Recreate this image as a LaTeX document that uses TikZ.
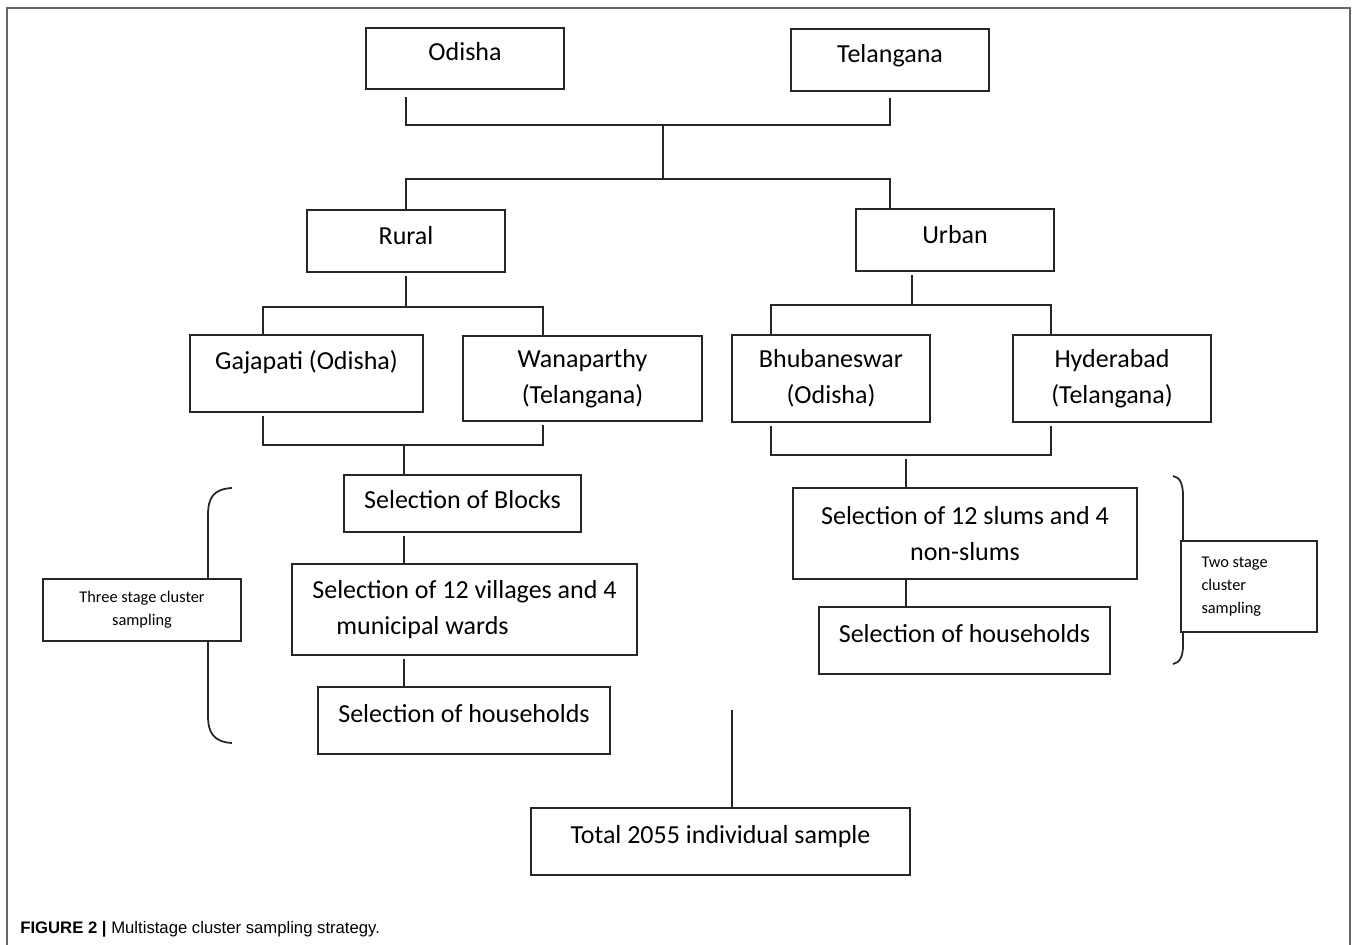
\documentclass[tikz,border=0pt]{standalone}
\usepackage{fontspec}
\setmainfont{Carlito}
\newfontfamily\capfont{Liberation Sans}

\newcommand{\boxfont}{\fontsize{14.8pt}{20.5pt}\selectfont}
\newcommand{\notefont}{\fontsize{9.3pt}{13.1pt}\selectfont}

\tikzset{
  frame/.style={draw=black!85, line width=1.2pt, inner sep=0pt, font=\boxfont},
  box/.style={frame, text height=0.36cm, text depth=#1},
  box/.default=0.26cm,
  note/.style={frame, font=\notefont, line width=1pt},
  link/.style={draw=black!85, line width=1pt},
  brace/.style={draw=black!85, line width=1pt},
}

\begin{document}
\begin{tikzpicture}[x=0.02cm, y=-0.02cm]
  \useasboundingbox (0,0) rectangle (1358,945);
  % page frame
  \draw[black!60, line width=1pt] (7,945) -- (7,8) -- (1350,8) -- (1350,945);

  % states and settings
  \node[box, minimum width=3.96cm, minimum height=1.22cm] (odisha) at (465,58.5) {Odisha};
  \node[box=0.24cm, minimum width=3.96cm, minimum height=1.24cm] (telangana) at (890,60) {Telangana};
  \node[box=0.2cm, minimum width=3.96cm, minimum height=1.24cm] (rural) at (406,241) {Rural};
  \node[box=0.2cm, minimum width=3.96cm, minimum height=1.24cm] (urban) at (955,240) {Urban};

  % districts and cities
  \node[box=0.52cm, minimum width=4.66cm, minimum height=1.54cm] (gajapati) at (306.5,373.5) {Gajapati (Odisha)};
  \node[frame, align=center, minimum width=4.78cm, minimum height=1.70cm] (wanaparthy) at (582.5,378.5) {Wanaparthy\\(Telangana)};
  \node[frame, align=center, minimum width=3.96cm, minimum height=1.74cm] (bhub) at (831,378.5) {Bhubaneswar\\(Odisha)};
  \node[frame, align=center, minimum width=3.96cm, minimum height=1.74cm] (hyd) at (1112,378.5) {Hyderabad\\(Telangana)};

  % rural stages
  \node[box=0.16cm, minimum width=4.74cm, minimum height=1.14cm] (blocks) at (462.5,503.5) {Selection of Blocks};
  \node[frame, align=left, minimum width=6.90cm, minimum height=1.82cm] (villages) at (464.5,609.5) {Selection of 12 villages and 4\\\hspace*{0.48cm}municipal wards};
  \node[box=0.3cm, minimum width=5.84cm, minimum height=1.34cm] (hhleft) at (464,720.5) {Selection of households};

  % urban stages
  \node[frame, align=center, minimum width=6.88cm, minimum height=1.82cm] (slums) at (965,533.5) {Selection of 12 slums and 4\\non-slums};
  \node[box=0.3cm, minimum width=5.82cm, minimum height=1.34cm] (hhright) at (964.5,640.5) {Selection of households};

  \node[box=0.3cm, minimum width=7.58cm, minimum height=1.34cm] (total) at (720.5,841.5) {Total 2055 individual sample};

  % side notes
  \node[note, align=center, minimum width=3.96cm, minimum height=1.24cm] (threestage) at (142,610) {Three stage cluster\\sampling};
  \node[note, text width=1.9cm, align=flush left, inner xsep=0.41cm, minimum height=1.82cm] (twostage) at (1249,586.5) {Two stage\\cluster\\sampling};

  % bus points
  \coordinate (busA) at (663,125);
  \coordinate (busB) at (663,179);
  \coordinate (ruL) at (263,307);
  \coordinate (ruR) at (543,307);
  \coordinate (urL) at (771,305);
  \coordinate (urR) at (1051,305);
  \coordinate (urM) at (912,305);
  \coordinate (rjL) at (263,445);
  \coordinate (rjR) at (543,445);
  \coordinate (rjM) at (404,445);
  \coordinate (ujL) at (771,455);
  \coordinate (ujR) at (1051,455);
  \coordinate (ujM) at (906,459);
  \coordinate (sumtop) at (732,710);

  % connectors
  \draw[link, shorten <=0.14cm, shorten >=0.12cm] (odisha.south -| rural) |- (busA) -| (telangana.south);
  \draw[link] (busA) -- (busB);
  \draw[link] (rural.north) |- (busB) -| (urban.north -| telangana);
  \draw[link, shorten <=0.06cm] (rural.south) -- (rural |- ruL);
  \draw[link] (gajapati.north -| ruL) |- (ruR) -- (wanaparthy.north -| ruR);
  \draw[link, shorten <=0.06cm] (urban.south -| urM) -- (urM);
  \draw[link] (bhub.north -| urL) |- (urR) -- (hyd.north -| urR);
  \draw[link, shorten <=0.06cm, shorten >=0.06cm] (gajapati.south -| rjL) |- (rjR) -- (wanaparthy.south -| rjR);
  \draw[link] (rjM) -- (blocks.north -| rjM);
  \draw[link, shorten <=0.06cm, shorten >=0.06cm] (bhub.south -| ujL) |- (ujR) -- (hyd.south -| ujR);
  \draw[link] (ujM) -- (slums.north -| ujM);
  \draw[link, shorten <=0.06cm] (blocks.south -| rjM) -- (villages.north -| rjM);
  \draw[link, shorten <=0.06cm] (villages.south -| rjM) -- (hhleft.north -| rjM);
  \draw[link] (slums.south -| ujM) -- (hhright.north -| ujM);
  \draw[link] (sumtop) -- (total.north -| sumtop);

  % braces
  \draw[brace] (232,488) .. controls (214,489) and (208,497) .. (208,515) -- (208,579);
  \draw[brace] (208,641) -- (208,716) .. controls (208,733) and (214,742) .. (232,743);
  \draw[brace] (1173,476) .. controls (1180,477) and (1183,484) .. (1183,496) -- (1183,541);
  \draw[brace] (1183,632) -- (1183,645) .. controls (1183,656) and (1180,663) .. (1173,664);

  \node[anchor=base west, inner sep=0pt, font=\capfont\fontsize{9.5pt}{11pt}\selectfont] (caption) at (20,933) {\textbf{FIGURE 2 |} Multistage cluster sampling strategy.};
\end{tikzpicture}
\end{document}
